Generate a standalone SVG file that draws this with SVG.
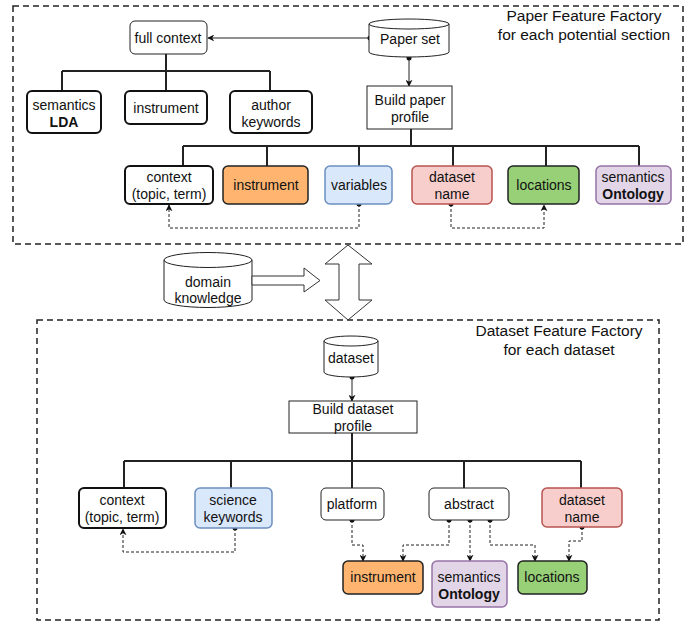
<svg xmlns="http://www.w3.org/2000/svg" width="699" height="623" viewBox="0 0 699 623">
<style>
text{font-family:"Liberation Sans",Arial,sans-serif;font-size:14px;fill:#111;text-anchor:middle}
.title{font-size:15.5px}
.b{font-weight:bold}
.frame{fill:none;stroke:#222;stroke-width:1.5;stroke-dasharray:6,4}
.thin{fill:#fff;stroke:#222;stroke-width:1}
.thick{fill:#fff;stroke:#111;stroke-width:2}
.orange{fill:#ffb570;stroke:#222;stroke-width:1.5}
.green{fill:#97d077;stroke:#222;stroke-width:1.5}
.blue{fill:#dae8fc;stroke:#6c8ebf;stroke-width:1.5}
.red{fill:#f8cecc;stroke:#b85450;stroke-width:1.5}
.purple{fill:#e1d5e7;stroke:#9673a6;stroke-width:1.5}
.tree{fill:none;stroke:#222;stroke-width:2}
.arr{fill:none;stroke:#222;stroke-width:1;marker-end:url(#ah)}
.dash{fill:none;stroke:#222;stroke-width:1;stroke-dasharray:3,2;marker-end:url(#ah)}
.dot{fill:#111}
.block{fill:#fff;stroke:#333;stroke-width:1}
</style>
<defs>
<marker id="ah" viewBox="0 0 10 10" refX="9" refY="5" markerWidth="7" markerHeight="7" markerUnits="userSpaceOnUse" orient="auto">
<path d="M0,0 L10,5 L0,10 L3,5 z" fill="#111"/>
</marker>
</defs>

<rect class="frame" x="13" y="6" width="670" height="238"/>
<text class="title" x="584" y="21">Paper Feature Factory</text>
<text class="title" x="584" y="40">for each potential section</text>

<rect class="frame" x="37" y="320" width="622" height="300"/>
<text class="title" x="559" y="336">Dataset Feature Factory</text>
<text class="title" x="559" y="355">for each dataset</text>

<g id="connectors">
<path class="tree" d="M166,54 V71 M62,71 H270 M62,71 V91 M166,71 V91 M270,71 V91"/>
<path class="tree" d="M411,129 V146 M183,146 H639 M183,146 V166 M267,146 V166 M359,146 V166 M453,146 V166 M546,146 V166 M639,146 V166"/>
<path class="arr" d="M370,38 H208"/>
<circle class="dot" cx="370" cy="38" r="2.5"/>
<path class="arr" d="M409,58 V86"/>
<circle class="dot" cx="409" cy="58" r="2.5"/>
<path class="dash" d="M359,204 V228 H169 V205"/>
<circle class="dot" cx="359" cy="204" r="2.5"/>
<path class="dash" d="M451,204 V228 H544 V205"/>
<circle class="dot" cx="451" cy="204" r="2.5"/>

<path class="tree" d="M352,433 V461 M124,461 H581 M124,461 V488 M231,461 V488 M352,461 V488 M464,461 V488 M581,461 V488"/>
<path class="arr" d="M352,377 V401"/>
<circle class="dot" cx="352" cy="377" r="2.5"/>
<path class="dash" d="M235,528 V552 H123 V529"/>
<circle class="dot" cx="235" cy="528" r="2.5"/>
<path class="dash" d="M352,520 V545 H363 V561"/>
<circle class="dot" cx="352" cy="520" r="2.5"/>
<path class="dash" d="M449,520 V545 H403 V561"/>
<circle class="dot" cx="449" cy="520" r="2.5"/>
<path class="dash" d="M470,520 V561"/>
<circle class="dot" cx="470" cy="520" r="2.5"/>
<path class="dash" d="M490,520 V545 H535 V561"/>
<circle class="dot" cx="490" cy="520" r="2.5"/>
<path class="dash" d="M582,527 V541 H569 V561"/>
<circle class="dot" cx="582" cy="527" r="2.5"/>
</g>

<!-- Top nodes -->
<g id="paper-set">
<path class="thin" d="M369,24 A40,5 0 0 1 449,24 V52 A40,5 0 0 1 369,52 Z"/>
<path fill="none" stroke="#222" stroke-width="1" d="M369,24 A40,5 0 0 0 449,24"/>
<text x="410" y="44">Paper set</text>
</g>
<g id="full-context">
<rect class="thin" x="130" y="21" width="77" height="33" rx="5"/>
<text x="168" y="43">full context</text>
</g>
<g id="semantics-lda">
<rect class="thick" x="27" y="91" width="74" height="42" rx="5"/>
<text x="64" y="110">semantics</text>
<text class="b" x="64" y="127">LDA</text>
</g>
<g id="instrument-1">
<rect class="thick" x="125" y="91" width="82" height="33" rx="5"/>
<text x="166" y="113">instrument</text>
</g>
<g id="author-keywords">
<rect class="thick" x="230" y="91" width="82" height="42" rx="5"/>
<text x="271" y="110">author</text>
<text x="271" y="127">keywords</text>
</g>
<g id="build-paper-profile">
<rect class="thin" x="367" y="86" width="85" height="43"/>
<text x="410" y="105">Build paper</text>
<text x="410" y="122">profile</text>
</g>
<g id="context-1">
<rect class="thick" x="125" y="166" width="88" height="38" rx="5"/>
<text x="169" y="182">context</text>
<text x="169" y="199">(topic, term)</text>
</g>
<g id="instrument-2">
<rect class="orange" x="223" y="166" width="85" height="38" rx="5"/>
<text x="266" y="190">instrument</text>
</g>
<g id="variables">
<rect class="blue" x="325" y="166" width="67" height="38" rx="5"/>
<text x="359" y="190">variables</text>
</g>
<g id="dataset-name-1">
<rect class="red" x="412" y="166" width="80" height="38" rx="5"/>
<text x="452" y="182">dataset</text>
<text x="452" y="199">name</text>
</g>
<g id="locations-1">
<rect class="green" x="508" y="166" width="71" height="38" rx="5"/>
<text x="544" y="190">locations</text>
</g>
<g id="semantics-ontology-1">
<rect class="purple" x="596" y="166" width="75" height="38" rx="5"/>
<text x="633" y="182">semantics</text>
<text class="b" x="633" y="199">Ontology</text>
</g>

<!-- Middle -->
<g id="domain-knowledge">
<path class="thin" d="M164,260 A44,7.5 0 0 1 252,260 V300 A44,7.5 0 0 1 164,300 Z"/>
<path fill="none" stroke="#222" stroke-width="1" d="M164,260 A44,7.5 0 0 0 252,260"/>
<text x="208" y="287">domain</text>
<text x="208" y="303">knowledge</text>
</g>
<g id="block-arrow">
<path class="block" d="M252,276 H304 V268 L320,280.5 L304,292 V285 H252 Z"/>
</g>
<g id="double-arrow">
<path class="block" d="M348,245 L372,264 H359 V300 H372 L348,320 L325,300 H339 V264 H325 Z"/>
</g>

<!-- Bottom nodes -->
<g id="dataset">
<path class="thin" d="M324,341 A27,5 0 0 1 378,341 V372 A27,5 0 0 1 324,372 Z"/>
<path fill="none" stroke="#222" stroke-width="1" d="M324,341 A27,5 0 0 0 378,341"/>
<text x="351" y="363">dataset</text>
</g>
<g id="build-dataset-profile">
<rect class="thin" x="289" y="401" width="128" height="32"/>
<text x="353" y="414">Build dataset</text>
<text x="353" y="431">profile</text>
</g>
<g id="context-2">
<rect class="thick" x="79" y="488" width="87" height="40" rx="5"/>
<text x="122" y="505">context</text>
<text x="122" y="522">(topic, term)</text>
</g>
<g id="science-keywords">
<rect class="blue" x="195" y="488" width="77" height="40" rx="5"/>
<text x="233" y="505">science</text>
<text x="233" y="522">keywords</text>
</g>
<g id="platform">
<rect class="thin" x="321" y="488" width="63" height="32" rx="5"/>
<text x="352" y="509">platform</text>
</g>
<g id="abstract">
<rect class="thin" x="429" y="488" width="80" height="32" rx="5"/>
<text x="469" y="509">abstract</text>
</g>
<g id="dataset-name-2">
<rect class="red" x="542" y="488" width="80" height="39" rx="5"/>
<text x="582" y="505">dataset</text>
<text x="582" y="522">name</text>
</g>
<g id="instrument-3">
<rect class="orange" x="343" y="561" width="80" height="33" rx="5"/>
<text x="383" y="582">instrument</text>
</g>
<g id="semantics-ontology-2">
<rect class="purple" x="432" y="561" width="75" height="46" rx="5"/>
<text x="469" y="582">semantics</text>
<text class="b" x="469" y="599">Ontology</text>
</g>
<g id="locations-2">
<rect class="green" x="518" y="561" width="69" height="33" rx="5"/>
<text x="552" y="582">locations</text>
</g>
</svg>
